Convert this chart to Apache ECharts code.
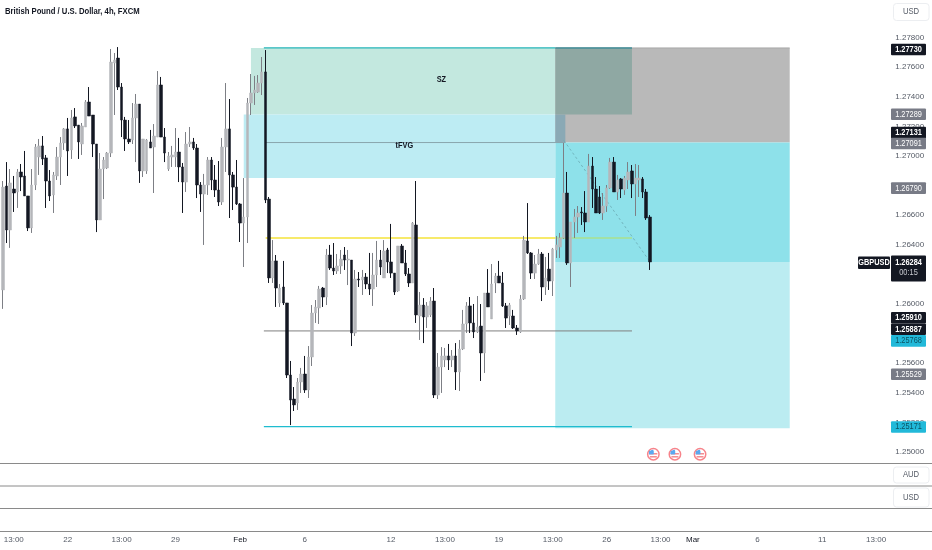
<!DOCTYPE html>
<html><head><meta charset="utf-8">
<style>html,body{margin:0;padding:0;background:#fff}#c{width:932px;height:550px;filter:blur(0.35px)}</style>
<script src="https://cdn.jsdelivr.net/npm/echarts@6/dist/echarts.min.js"></script>
</head><body><div id="c"></div>
<script>
const opens=[1.26095,1.26797,1.26500,1.26777,1.26757,1.26892,1.26865,1.26730,1.26514,1.26804,1.26993,1.27068,1.26987,1.26831,1.26737,1.26865,1.26993,1.27088,1.27183,1.27041,1.27264,1.27209,1.27081,1.27196,1.27365,1.27277,1.27081,1.26568,1.26912,1.26919,1.27020,1.27628,1.27662,1.27466,1.27243,1.27115,1.27108,1.27257,1.27351,1.26899,1.26899,1.27095,1.27061,1.27128,1.27480,1.27128,1.26912,1.26993,1.26993,1.27027,1.26926,1.26824,1.27081,1.27095,1.27054,1.26804,1.26743,1.26804,1.26973,1.26838,1.26770,1.26689,1.27061,1.27183,1.26872,1.26790,1.26676,1.26547,1.26588,1.27358,1.27426,1.27432,1.27493,1.27568,1.26709,1.26176,1.26291,1.26007,1.26115,1.26007,1.25520,1.25358,1.25331,1.25473,1.25527,1.25419,1.25642,1.25939,1.25973,1.26108,1.26047,1.26331,1.26243,1.26223,1.26257,1.26331,1.26297,1.26297,1.25804,1.26169,1.26162,1.26182,1.26135,1.26101,1.26196,1.26297,1.26176,1.26365,1.26284,1.26209,1.26088,1.26392,1.26277,1.26203,1.26142,1.26534,1.25919,1.25993,1.25912,1.25926,1.26020,1.25385,1.25574,1.25622,1.25649,1.25622,1.25649,1.25541,1.25696,1.25865,1.25987,1.25872,1.25811,1.25851,1.25669,1.26074,1.25899,1.26142,1.26189,1.26142,1.25987,1.25919,1.25919,1.25838,1.25811,1.26034,1.26426,1.26345,1.26209,1.26270,1.26338,1.26115,1.26236,1.26155,1.26365,1.26385,1.26446,1.26750,1.26277,1.26554,1.26588,1.26622,1.26615,1.26554,1.26932,1.26777,1.26723,1.26615,1.26662,1.26784,1.26959,1.26757,1.26845,1.26770,1.26838,1.26899,1.26811,1.26838,1.26845,1.26757,1.26588];
const highs=[1.26831,1.26959,1.26912,1.26865,1.26912,1.26946,1.27034,1.26730,1.26912,1.27081,1.27115,1.27135,1.27007,1.26905,1.26892,1.27061,1.27128,1.27189,1.27257,1.27311,1.27324,1.27209,1.27223,1.27378,1.27466,1.27277,1.27081,1.27020,1.26993,1.27027,1.27723,1.27696,1.27736,1.27493,1.27264,1.27243,1.27358,1.27419,1.27351,1.27115,1.27115,1.27176,1.27216,1.27574,1.27534,1.27189,1.27027,1.27068,1.27189,1.27122,1.26953,1.27162,1.27196,1.27122,1.27081,1.26824,1.26879,1.26993,1.26993,1.26939,1.26966,1.27122,1.27493,1.27385,1.26892,1.26973,1.26682,1.26851,1.27392,1.27554,1.27541,1.27547,1.27669,1.27716,1.26723,1.26432,1.26331,1.26135,1.26291,1.26007,1.25615,1.25439,1.25500,1.25568,1.25649,1.25716,1.25993,1.26027,1.26122,1.26115,1.26372,1.26399,1.26412,1.26338,1.26365,1.26385,1.26365,1.26297,1.26230,1.26216,1.26230,1.26209,1.26345,1.26345,1.26426,1.26365,1.26432,1.26379,1.26541,1.26209,1.26392,1.26405,1.26365,1.26243,1.26554,1.26831,1.26081,1.26040,1.26013,1.26047,1.26108,1.25669,1.25709,1.25703,1.25730,1.25689,1.25736,1.25757,1.25960,1.26013,1.26047,1.26000,1.26054,1.26000,1.26074,1.26236,1.26270,1.26209,1.26291,1.26216,1.26007,1.26007,1.25960,1.25858,1.26061,1.26460,1.26682,1.26351,1.26331,1.26372,1.26351,1.26318,1.26345,1.26379,1.26460,1.26480,1.27088,1.26892,1.26554,1.26642,1.26662,1.26655,1.26763,1.27014,1.26993,1.26858,1.26797,1.26750,1.26804,1.26987,1.26993,1.26872,1.26851,1.26865,1.26959,1.26939,1.26946,1.26939,1.26858,1.26777,1.26601];
const lows=[1.25967,1.26412,1.26379,1.26622,1.26649,1.26763,1.26730,1.26493,1.26480,1.26770,1.26872,1.26939,1.26649,1.26696,1.26615,1.26838,1.26804,1.27041,1.26865,1.26980,1.27189,1.26980,1.27007,1.27196,1.27270,1.26993,1.26486,1.26568,1.26709,1.26912,1.26993,1.27277,1.27446,1.27128,1.27034,1.27081,1.27081,1.26959,1.26818,1.26858,1.26879,1.27054,1.26750,1.27128,1.27128,1.26959,1.26899,1.26926,1.26926,1.26824,1.26615,1.26757,1.27061,1.27041,1.26716,1.26622,1.26399,1.26737,1.26770,1.26723,1.26662,1.26669,1.26892,1.26581,1.26635,1.26669,1.26419,1.26250,1.26412,1.27277,1.27345,1.27426,1.27412,1.26682,1.26142,1.26142,1.25980,1.25980,1.25993,1.25500,1.25182,1.25277,1.25284,1.25399,1.25399,1.25365,1.25581,1.25872,1.25865,1.25980,1.25993,1.26230,1.26196,1.26203,1.26203,1.26230,1.26128,1.25716,1.25784,1.26115,1.26061,1.26101,1.26061,1.25987,1.26115,1.26196,1.26176,1.26209,1.26176,1.26061,1.26081,1.26277,1.26189,1.26115,1.26142,1.25872,1.25757,1.25736,1.25838,1.25912,1.25365,1.25358,1.25399,1.25574,1.25554,1.25574,1.25419,1.25412,1.25689,1.25804,1.25804,1.25770,1.25804,1.25480,1.25534,1.25980,1.25899,1.26074,1.26142,1.25980,1.25838,1.25858,1.25831,1.25791,1.25804,1.26027,1.26338,1.26169,1.26169,1.26264,1.26020,1.26061,1.26095,1.26054,1.26311,1.26311,1.26439,1.26264,1.26115,1.26446,1.26480,1.26534,1.26486,1.26554,1.26649,1.26615,1.26608,1.26568,1.26622,1.26777,1.26757,1.26703,1.26716,1.26737,1.26777,1.26716,1.26595,1.26723,1.26716,1.26568,1.26230];
const closes=[1.26790,1.26500,1.26818,1.26750,1.26892,1.26858,1.26730,1.26514,1.26804,1.27061,1.27068,1.26980,1.26831,1.26730,1.26872,1.26993,1.27088,1.27183,1.27034,1.27257,1.27203,1.27095,1.27203,1.27365,1.27270,1.27081,1.26568,1.26912,1.26973,1.27020,1.27635,1.27649,1.27466,1.27243,1.27115,1.27095,1.27257,1.27351,1.26899,1.27115,1.27108,1.27054,1.27135,1.27480,1.27128,1.27020,1.27000,1.27007,1.27027,1.26926,1.26824,1.27081,1.27095,1.27054,1.26804,1.26743,1.26804,1.26973,1.26838,1.26770,1.26689,1.27061,1.27183,1.26872,1.26790,1.26676,1.26547,1.26588,1.27358,1.27426,1.27446,1.27493,1.27568,1.26703,1.26176,1.26291,1.26108,1.26108,1.26007,1.25520,1.25351,1.25318,1.25473,1.25527,1.25419,1.25642,1.25939,1.25980,1.26101,1.26047,1.26331,1.26243,1.26223,1.26257,1.26304,1.26297,1.26304,1.25804,1.26169,1.26162,1.26182,1.26135,1.26101,1.26196,1.26297,1.26250,1.26358,1.26284,1.26209,1.26081,1.26392,1.26277,1.26203,1.26142,1.26547,1.25926,1.25993,1.25912,1.25987,1.26020,1.25385,1.25574,1.25649,1.25649,1.25622,1.25649,1.25541,1.25696,1.25865,1.25987,1.25872,1.25811,1.25845,1.25669,1.26074,1.25980,1.26135,1.26189,1.26142,1.25987,1.25905,1.25993,1.25838,1.25818,1.26034,1.26432,1.26345,1.26209,1.26270,1.26338,1.26115,1.26176,1.26155,1.26372,1.26399,1.26446,1.26750,1.26277,1.26554,1.26588,1.26615,1.26615,1.26554,1.26932,1.26777,1.26615,1.26615,1.26662,1.26784,1.26959,1.26757,1.26838,1.26777,1.26851,1.26892,1.26811,1.26851,1.26851,1.26757,1.26581,1.26284];

const tickBars=[3,18,33,48,66,84,108,123,138,153,168,183,192,210,228,243];
const tickLabels=['13:00','22','13:00','29','Feb','6','12','13:00','19','13:00','26','13:00','Mar','6','11','13:00'];
const barCount=248;
const categories=Array.from({length:barCount},(_,i)=>{const k=tickBars.indexOf(i);return k<0?'':tickLabels[k]});

const zoneStart=[153.7,153.7,153.7,69.0,67.0,153.7,153.7];
const zoneEnd=[218.95,218.95,218.95,153.7,153.7,175.05,156.5];
const zoneTop=[1.27730,1.27091,1.26284,1.27730,1.27280,1.27730,1.27280];
const zoneBottom=[1.27091,1.26284,1.25160,1.27280,1.26851,1.27280,1.27091];
const zoneColors=['#b9b9b9','#8ee1ea','#bbecf1','#c3e8df','#bdecf3','#8fa8a3','#8aa9b5'];

const lineStart=[72.6,72.6,153.7,73.1,153.7,72.6,73.1,153.7,156.1];
const lineEnd=[153.7,175.05,218.95,153.7,175.05,175.05,156.5,175.05,180.1];
const lineFrom=[1.27730,1.25171,1.27730,1.26446,1.26446,1.25818,1.27091,1.27730,1.27105];
const lineTo=[1.27730,1.25171,1.27730,1.26446,1.26446,1.25818,1.27091,1.27730,1.26284];
const lineColors=['#25b5b8','#1fbccf','#a8a8a8','#f7ea6b','#a9e18e','#7f7f7f','#8aa6ad','#3f8e99','#6ba9b3'];
const lineWidths=[1.3,1.3,1,2,1.6,1,1,1.4,0.8];

const tagPrices=[1.27730,1.27289,1.27131,1.27091,1.26790,1.25910,1.25887,1.25768,1.25529,1.25171];
const tagKinds=['k','g','k','g','g','k','k','c','g','c'];
const tagShift=[1.5,1,-4,1,1,0.5,8.5,2.5,0.6,0.3];
const lastPrice=1.26284;
const countdown='00:15';
const symbol='GBPUSD';
const eventBars=[181,187,194];
const eventPrice=1.24985;
const textLabels=['SZ','tFVG'];
const textBars=[122,111.7];
const textPrices=[1.27514,1.27068];
const title='British Pound / U.S. Dollar, 4h, FXCM';
const paneLines=[463.5,486,508.5,531.5];
const currencyBoxes=[['USD',3.5,17],['AUD',467,16],['USD',488,19]];

const SANS='"Liberation Sans",sans-serif';
const wickData=opens.map((o,i)=>[o,closes[i],lows[i],highs[i]]);
const bodyData=opens.map((o,i)=>{const c=closes[i];return [o,c,Math.min(o,c),Math.max(o,c)]});
const tagFill={k:'#131722',g:'#787b86',c:'#22b9d9'};
const tagText={k:'#ffffff',g:'#ffffff',c:'#0c5262'};

const chart=echarts.init(document.getElementById('c'),null,{renderer:'canvas'});
const overlayAxes={xAxisIndex:1,yAxisIndex:0,silent:true};
const condensed=(x,y,text,fill,font)=>({type:'text',x,y,scaleX:0.82,style:{text,fill,font,align:'center',verticalAlign:'middle'}});
chart.setOption({
 animation:false,
 backgroundColor:'#ffffff',
 grid:{left:0,width:892.3,top:8,height:444},
 xAxis:[{type:'category',data:categories,boundaryGap:true,axisLine:{show:false},axisTick:{show:false},splitLine:{show:false},
   axisLabel:{interval:0,margin:84,fontFamily:SANS,fontSize:8,hideOverlap:false,
     color:v=>(v==='Feb'||v==='Mar')?'#131722':'#555b66'}},
   {type:'value',min:-0.5,max:barCount-0.5,show:false}],
 yAxis:{type:'value',position:'right',min:1.25,max:1.28,interval:0.002,splitLine:{show:false},axisLine:{show:false},axisTick:{show:false},
   axisLabel:{margin:3,fontFamily:SANS,fontSize:8,color:'#555b66',
     formatter:v=>(v>1.2781)?'':v.toFixed(5)}},
 series:[
  {type:'custom',name:'zones',...overlayAxes,z:1,clip:false,data:zoneStart.map((s,i)=>[s,zoneEnd[i],zoneTop[i],zoneBottom[i],i]),
   encode:{x:[0,1],y:[2,3]},
   renderItem:(p,api)=>{const a=api.coord([api.value(0),api.value(2)]),b=api.coord([api.value(1),api.value(3)]);
     return {type:'rect',shape:{x:a[0],y:a[1],width:b[0]-a[0],height:b[1]-a[1]},style:{fill:zoneColors[api.value(4)]}}}},
  {type:'custom',name:'lines',...overlayAxes,z:2,clip:false,data:lineStart.map((s,i)=>[s,lineEnd[i],lineFrom[i],lineTo[i],i]),
   encode:{x:[0,1],y:[2,3]},
   renderItem:(p,api)=>{const i=api.value(4),a=api.coord([api.value(0),api.value(2)]),b=api.coord([api.value(1),api.value(3)]);
     return {type:'line',shape:{x1:a[0],y1:a[1],x2:b[0],y2:b[1]},style:{stroke:lineColors[i],lineWidth:lineWidths[i],lineDash:i===8?[2.5,2.5]:null}}}},
  {type:'candlestick',name:'wicks',barWidth:1,z:3,silent:true,data:wickData,
   itemStyle:{color:'#7d7f85',color0:'#131722',borderColor:'#7d7f85',borderColor0:'#131722',borderWidth:1}},
  {type:'candlestick',name:'bodies',barWidth:3,z:4,silent:true,data:bodyData,
   itemStyle:{color:'#b5b6ba',color0:'#131722',borderColor:'#b5b6ba',borderColor0:'#131722',borderWidth:0.5}},
  {type:'custom',name:'notes',...overlayAxes,z:5,clip:false,data:textLabels.map((t,i)=>[textBars[i],textPrices[i],i]),encode:{x:0,y:1},
   renderItem:(p,api)=>{const a=api.coord([api.value(0),api.value(1)]);
     return condensed(a[0],a[1],textLabels[api.value(2)],'#131722','bold 9px '+SANS)}},
  {type:'custom',name:'events',...overlayAxes,z:5,data:eventBars.map(b=>[b,eventPrice]),encode:{x:0,y:1},clip:false,
   renderItem:(p,api)=>{const a=api.coord([api.value(0),api.value(1)]);
     return {type:'group',x:a[0],y:a[1],children:[
       {type:'circle',shape:{cx:0,cy:0,r:5.7},style:{fill:'#fff',stroke:'#f7838a',lineWidth:1.5}},
       {type:'rect',shape:{x:-4,y:-1,width:8,height:1.2},style:{fill:'#f26d74'}},
       {type:'rect',shape:{x:-3.5,y:2,width:7,height:1.2},style:{fill:'#f26d74'}},
       {type:'sector',shape:{cx:0,cy:0,r:4.5,r0:0,startAngle:Math.PI,endAngle:Math.PI*1.5},style:{fill:'#5aa8f0'}},
       {type:'rect',shape:{x:-4.3,y:-3.4,width:4.6,height:3.4},style:{fill:'#5aa8f0'}}
     ]}}},
  {type:'custom',name:'tags',xAxisIndex:0,yAxisIndex:0,silent:true,z:9,clip:false,data:tagPrices.map((v,i)=>[barCount-1,v,i]),encode:{y:1},
   renderItem:(p,api)=>{const i=api.value(2),y=api.coord([barCount-1,api.value(1)])[1]+tagShift[i],k=tagKinds[i];
     return {type:'group',children:[
       {type:'rect',shape:{x:891,y:y-5.8,width:35,height:11.6,r:1},style:{fill:tagFill[k]}},
       condensed(908.5,y,api.value(1).toFixed(5),tagText[k],(k==='k'?'bold ':'')+'9px '+SANS)
     ]}}},
  {type:'custom',name:'last',xAxisIndex:0,yAxisIndex:0,silent:true,z:9,clip:false,data:[[barCount-1,lastPrice]],encode:{y:1},
   renderItem:(p,api)=>{const y=api.coord([barCount-1,api.value(1)])[1]+1;
     return {type:'group',children:[
       {type:'rect',shape:{x:858,y:y-6.5,width:32,height:12.5,r:1},style:{fill:'#131722'}},
       condensed(874,y,symbol,'#fff','bold 9px '+SANS),
       {type:'rect',shape:{x:891,y:y-7.5,width:35,height:26,r:1},style:{fill:'#131722'}},
       condensed(908.5,y,api.value(1).toFixed(5),'#fff','bold 9px '+SANS),
       condensed(908.5,y+9.5,countdown,'#c9cbd1','9px '+SANS)
     ]}}}
 ],
 graphic:[
  {type:'text',x:5,y:11,scaleX:0.81,z:20,style:{text:title,fill:'#131722',font:'bold 9.5px '+SANS,verticalAlign:'middle'}},
  ...paneLines.map(y=>({type:'line',z:20,shape:{x1:0,y1:y,x2:932,y2:y},style:{stroke:'#8a8a8a',lineWidth:1}})),
  ...currencyBoxes.flatMap(([t,y,h])=>[
    {type:'rect',z:21,shape:{x:893.5,y:y,width:35.5,height:h,r:3},style:{fill:'#fff',stroke:'#eceef1',lineWidth:1}},
    {type:'text',z:22,x:911,y:y+h/2,scaleX:0.85,style:{text:t,fill:'#555b66',font:'9px '+SANS,align:'center',verticalAlign:'middle'}}
  ])
 ]
});
</script></body></html>
